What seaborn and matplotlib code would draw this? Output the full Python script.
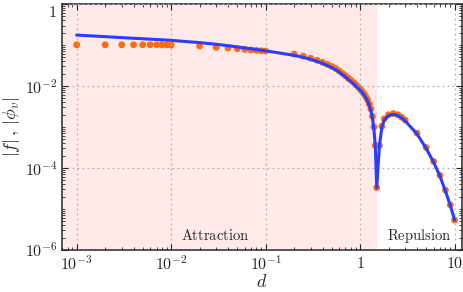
import numpy as np
import pandas as pd
import seaborn as sns
import matplotlib.pyplot as plt
from matplotlib.ticker import LogLocator, NullFormatter, FixedLocator

# separation values (shared by theory curve and simulation points)
d = [0.001, 0.002, 0.003, 0.004, 0.005, 0.006, 0.007, 0.008, 0.009,
     0.01, 0.02, 0.03, 0.04, 0.05, 0.06, 0.07, 0.08, 0.09,
     0.1, 0.2, 0.25, 0.3, 0.35, 0.4, 0.45, 0.5, 0.55, 0.6, 0.65, 0.7,
     0.75, 0.8, 0.85, 0.9, 0.95, 1.0, 1.05, 1.1, 1.15, 1.2, 1.25, 1.3,
     1.35, 1.4, 1.45, 1.5,
     1.6, 1.7, 1.8, 2.0, 2.25, 2.5, 2.75, 3.0, 4, 5, 6, 7, 8, 9, 10]

# log10 |f| (theory, blue line)
log_f = [-0.756, -0.795, -0.818, -0.834, -0.846, -0.856, -0.865, -0.872, -0.879,
         -0.885, -0.94, -0.98, -1.015, -1.045, -1.07, -1.09, -1.11, -1.125,
         -1.14, -1.25, -1.30, -1.35, -1.40, -1.45, -1.50, -1.55, -1.60, -1.66, -1.72, -1.78,
         -1.84, -1.89, -1.94, -2.0, -2.05, -2.1, -2.16, -2.22, -2.29, -2.37, -2.47, -2.6,
         -2.78, -3.05, -3.5, -4.48,
         -3.45, -3.0, -2.83, -2.72, -2.69, -2.72, -2.78, -2.85, -3.17, -3.52, -3.86, -4.2, -4.56, -4.91, -5.27]

# log10 |phi_v| (simulation, orange points)
log_phi = [-0.993, -0.993, -0.993, -0.993, -0.993, -0.993, -0.993, -0.993, -0.995,
           -1.0, -1.024, -1.056, -1.073, -1.09, -1.105, -1.12, -1.13, -1.138,
           -1.146, -1.22, -1.27, -1.32, -1.37, -1.42, -1.47, -1.52, -1.57, -1.63, -1.69, -1.75,
           -1.81, -1.86, -1.91, -1.97, -2.02, -2.07, -2.13, -2.19, -2.26, -2.34, -2.44, -2.56,
           -2.74, -3.0, -3.45, -4.48,
           -3.45, -2.98, -2.8, -2.7, -2.67, -2.7, -2.76, -2.83, -3.15, -3.5, -3.84, -4.18, -4.54, -4.9, -5.27]

x_ticks = [1e-3, 1e-2, 1e-1, 1, 10]
x_labels = [r"$10^{-3}$", r"$10^{-2}$", r"$10^{-1}$", r"$1$", r"$10$"]
y_ticks = [1e-6, 1e-4, 1e-2, 1]
y_labels = [r"$10^{-6}$", r"$10^{-4}$", r"$10^{-2}$", r"$1$"]

df = pd.DataFrame({"d": d, "f": np.power(10.0, log_f), "phi": np.power(10.0, log_phi)})

sns.set_style("ticks")
plt.rcParams["mathtext.fontset"] = "cm"
plt.rcParams["font.family"] = ["DejaVu Serif"]

fig = plt.figure(figsize=(4.63, 2.92), dpi=100)
ax = fig.add_axes([0.134, 0.144, 0.864, 0.842])

ax.axvspan(6e-4, 1.5, color="#ffe9e9", lw=0, zorder=0)

sns.scatterplot(data=df, x="d", y="phi", ax=ax, color="#ff6a0f", s=24,
                edgecolor="none", zorder=2)
sns.lineplot(data=df, x="d", y="f", ax=ax, color="#2a3cff", lw=2.2, zorder=3)

ax.set_xscale("log")
ax.set_yscale("log")
ax.set_xlim(7e-4, 12)
ax.set_ylim(1e-6, 1)

ax.xaxis.set_major_locator(FixedLocator(x_ticks))
ax.yaxis.set_major_locator(FixedLocator(y_ticks))
ax.set_xticklabels(x_labels)
ax.set_yticklabels(y_labels)
ax.xaxis.set_minor_locator(LogLocator(base=10, subs=np.arange(2, 10), numticks=20))
ax.yaxis.set_minor_locator(LogLocator(base=10, subs=np.arange(1, 10), numticks=20))
ax.xaxis.set_minor_formatter(NullFormatter())
ax.yaxis.set_minor_formatter(NullFormatter())

ax.tick_params(which="both", direction="in", top=True, right=True, labelsize=11.5)
ax.tick_params(which="major", length=4, width=0.8)
ax.tick_params(which="minor", length=2, width=0.6)
for s in ax.spines.values():
    s.set_linewidth(1.1)

ax.grid(True, which="major", color="#b5b5b5", linestyle=(0, (1.5, 2.5)), lw=0.9)
ax.set_axisbelow(False)

ax.text(0.029, 2.2e-6, r"$\mathrm{Attraction}$", ha="center", va="center", fontsize=10.5)
ax.text(4.2, 2.2e-6, r"$\mathrm{Repulsion}$", ha="center", va="center", fontsize=10.5)

ax.set_xlabel(r"$d$", fontsize=13, labelpad=0)
ax.set_ylabel(r"$|f|\,,\,|\phi_v|$", fontsize=13, labelpad=2)

# keep the top "1" label inside the figure
ax.get_yticklabels()[-1].set_verticalalignment("top")

fig.savefig("out.png", dpi=100)
